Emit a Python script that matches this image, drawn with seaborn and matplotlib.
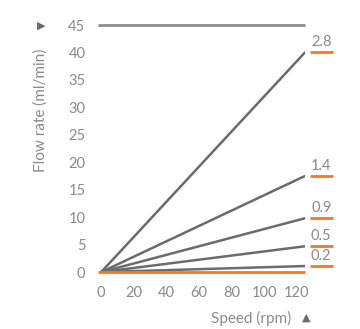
import pandas as pd
import matplotlib.pyplot as plt
import seaborn as sns

tubes = ["2.8", "1.4", "0.9", "0.5", "0.2"]
flow_at_max = [40.0, 17.5, 9.8, 4.7, 1.1]
speeds = [0, 125]
y_ticks = [0, 5, 10, 15, 20, 25, 30, 35, 40, 45]
x_ticks = [0, 20, 40, 60, 80, 100, 120]

grey = "#6b6b6d"
text_grey = "#8a8a8c"
orange = "#f47920"

rows = []
for t, f in zip(tubes, flow_at_max):
    rows.append({"tube": t, "speed": speeds[0], "flow": 0.0})
    rows.append({"tube": t, "speed": speeds[1], "flow": f})
df = pd.DataFrame(rows)

sns.set_style("white")
plt.rcParams["font.family"] = ["Lato", "DejaVu Sans"]

fig = plt.figure(figsize=(3.6, 3.29), dpi=100)
ax = fig.add_axes([0.272, 0.173, 0.575, 0.751])

sns.lineplot(data=df, x="speed", y="flow", units="tube", estimator=None,
             color=grey, lw=1.8, ax=ax, legend=False)
# baseline and top line
ax.plot([-2, 125], [0, 0], color=orange, lw=2, solid_capstyle="butt", clip_on=False)
ax.plot([-2, 125], [45, 45], color="#8c8c8e", lw=2, solid_capstyle="butt", clip_on=False)

ax.set_xlim(-2, 125)
ax.set_ylim(0, 45)
ax.set_xticks(x_ticks)
ax.set_yticks(y_ticks)
ax.tick_params(length=0, labelsize=10.5, colors=text_grey)
ax.tick_params(axis="y", pad=9)
ax.tick_params(axis="x", pad=10)
for s in ax.spines.values():
    s.set_visible(False)
ax.set_xlabel("")
ax.set_ylabel("")

for t, f in zip(tubes, flow_at_max):
    ax.plot([128, 142], [f, f], color=orange, lw=2, clip_on=False, solid_capstyle="butt")
    ax.text(135, f + 0.6, t, color=text_grey, fontsize=10.5, ha="center", va="bottom", clip_on=False)

fig.text(0.112, 0.665, "Flow rate (ml/min)", rotation=90, color=text_grey,
         fontsize=11, ha="center", va="center")
fig.text(0.115, 0.925, "\u25B6", color=grey, fontsize=8, ha="center", va="center")
fig.text(0.81, 0.008, "Speed (rpm)", color=text_grey, fontsize=11, ha="right", va="bottom")
fig.text(0.85, 0.02, "\u25B2", color=grey, fontsize=8, ha="center", va="bottom")

fig.savefig("out.png", dpi=100)
